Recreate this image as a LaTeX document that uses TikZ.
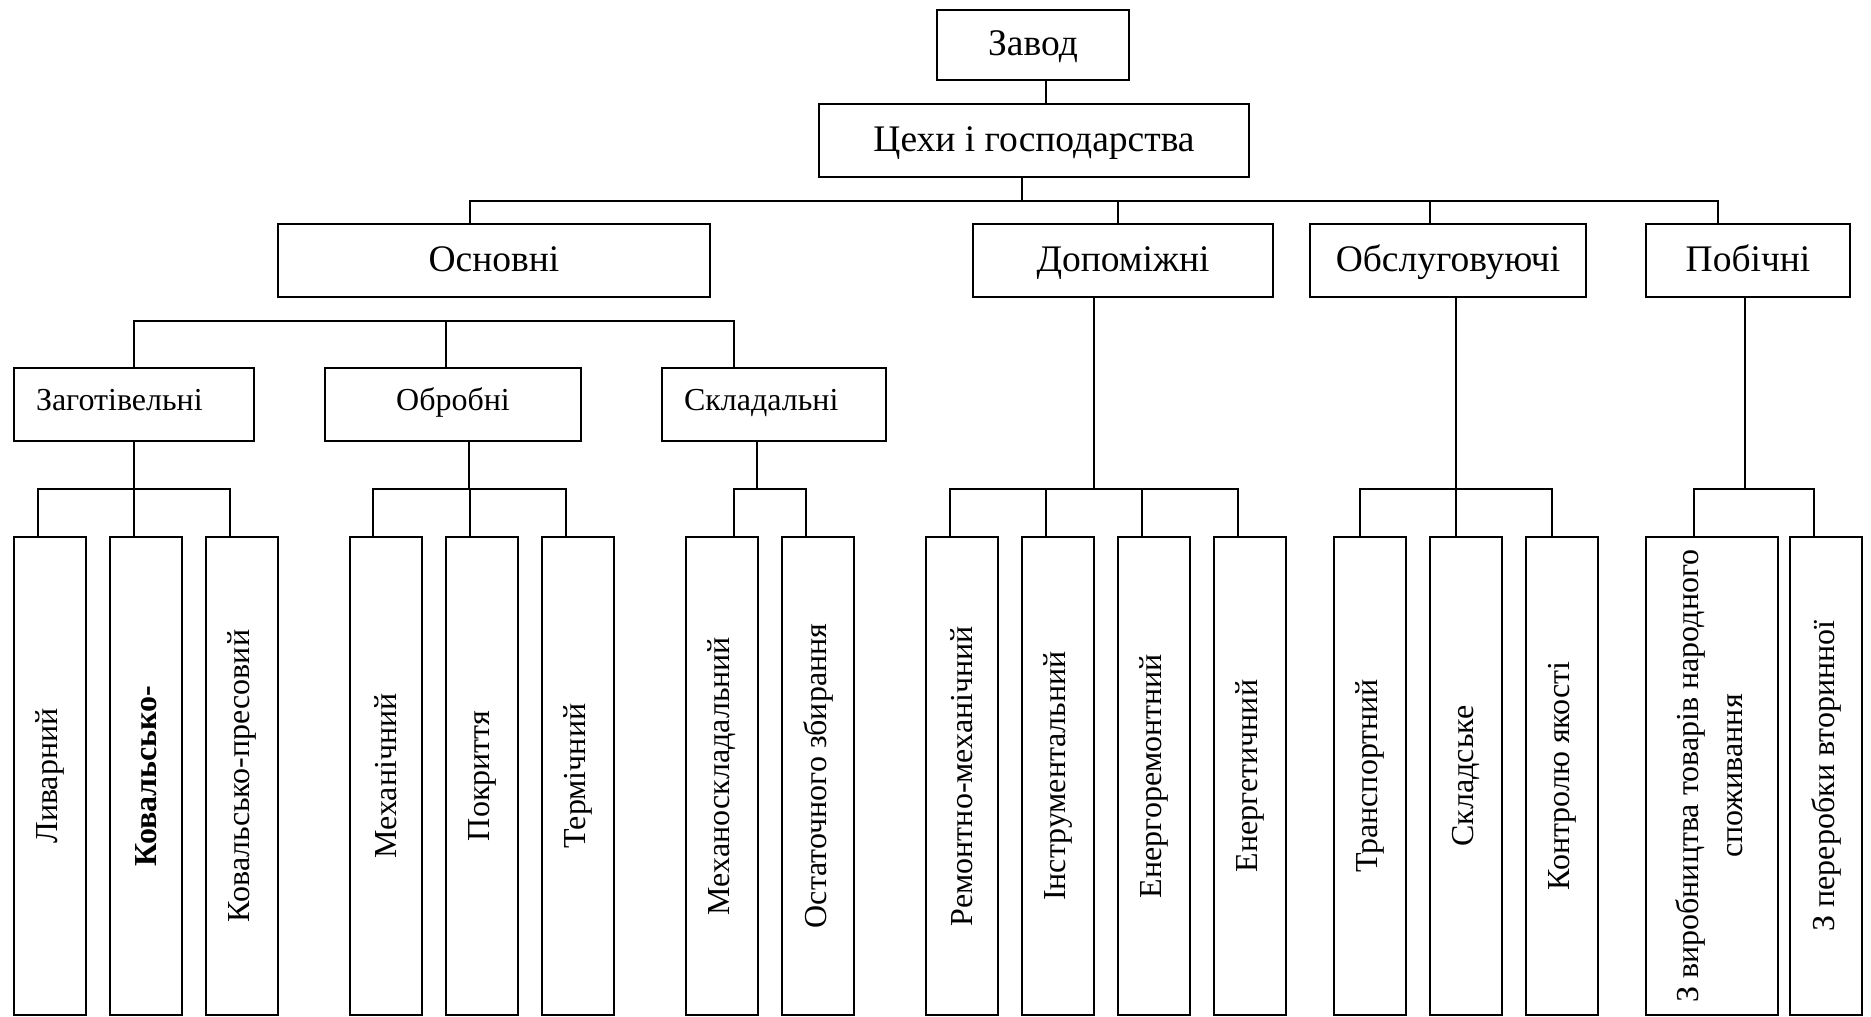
\documentclass[tikz,border=0pt]{standalone}
\usepackage{fontspec}
\setmainfont{Liberation Serif}
\usepackage{graphicx}

\begin{document}
\begin{tikzpicture}[
    x=1pt, y=-1pt,
    box/.style={draw, line width=2pt, inner sep=0pt, minimum height=73pt, font=\fontsize{32}{44}\selectfont},
    head/.style={box, text height=26pt, text depth=5pt, font=\fontsize{37.5}{44}\selectfont},
    stage/.style={box, text height=22pt, text depth=11pt},
    leaf/.style={box, minimum width=72pt, minimum height=478pt},
    link/.style={draw, line width=2pt}
]
\useasboundingbox (0,0) rectangle (1871,1017);

% Plant and shops
\node[head, minimum width=192pt, minimum height=70pt] (plant) at (1033,45) {Завод};
\node[head, minimum width=430pt] (shops) at (1034,140.5) {Цехи і господарства};

% Shop groups
\node[head, minimum width=432pt] (main) at (494,260.5) {Основні};
\node[head, minimum width=300pt] (aux) at (1123,260.5) {Допоміжні};
\node[head, minimum width=276pt] (serv) at (1448,260.5) {Обслуговуючі};
\node[head, minimum width=204pt] (side) at (1748,260.5) {Побічні};

% Main shop stages
\node[stage, minimum width=240pt, text width=196pt, inner xsep=22pt, align=left] (blank) at (134,404.5) {Заготівельні};
\node[stage, minimum width=256pt] (proc) at (453,404.5) {Обробні};
\node[stage, minimum width=224pt, text width=180pt, inner xsep=22pt, align=left] (assy) at (774,404.5) {Складальні};

% Shops (vertical text)
\node[leaf] (cast) at (50,776) {\rotatebox{90}{Ливарний}};
\node[leaf] (forge) at (146,776) {\rotatebox{90}{\bfseries Ковальсько-}};
\node[leaf] (press) at (242,776) {\rotatebox{90}{Ковальсько-пресовий}};
\node[leaf] (mech) at (386,776) {\rotatebox{90}{Механічний}};
\node[leaf] (coat) at (482,776) {\rotatebox{90}{Покриття}};
\node[leaf] (heat) at (578,776) {\rotatebox{90}{Термічний}};
\node[leaf] (massy) at (722,776) {\rotatebox{90}{Механоскладальний}};
\node[leaf] (final) at (818,776) {\rotatebox{90}{Остаточного збирання}};
\node[leaf] (repair) at (962,776) {\rotatebox{90}{Ремонтно-механічний}};
\node[leaf] (tool) at (1058,776) {\rotatebox{90}{Інструментальний}};
\node[leaf] (enrep) at (1154,776) {\rotatebox{90}{Енергоремонтний}};
\node[leaf] (energy) at (1250,776) {\rotatebox{90}{Енергетичний}};
\node[leaf] (trans) at (1370,776) {\rotatebox{90}{Транспортний}};
\node[leaf] (store) at (1466,776) {\rotatebox{90}{Складське}};
\node[leaf] (qual) at (1562,776) {\rotatebox{90}{Контролю якості}};
\node[leaf, minimum width=132pt] (goods) at (1712,776) {\rotatebox{90}{\begin{tabular}{@{}c@{}}З виробництва товарів народного\\споживання\end{tabular}}};
\node[leaf] (recyc) at (1826,776) {\rotatebox{90}{З переробки вторинної}};

% Plant to shops
\draw[link] ([xshift=13pt]plant.south) -- ([xshift=13pt]plant.south |- shops.north);

% Top bus
\coordinate (top) at (1022,201);
\draw[link] (shops.south -| top) -- (top);
\draw[link] ([xshift=-24pt]main.north) |- (top);
\draw[link] ([xshift=-5pt]aux.north) |- (top);
\draw[link] ([xshift=-18pt]serv.north) |- (top);
\draw[link] ([xshift=-30pt]side.north) |- (top);

% Main shops bus
\coordinate (mainbus) at (446,321);
\draw[link] (blank.north) |- (mainbus);
\draw[link] ([xshift=-7pt]proc.north) |- (mainbus);
\draw[link] ([xshift=-40pt]assy.north) |- (mainbus);

% Buses down to the shops
\coordinate (jblank) at (134,489);
\draw[link] (blank.south) -- (jblank);
\draw[link] ([xshift=-12pt]cast.north) |- (jblank);
\draw[link] ([xshift=-12pt]forge.north) |- (jblank);
\draw[link] ([xshift=-12pt]press.north) |- (jblank);

\coordinate (jproc) at (469,489);
\draw[link] (proc.south -| jproc) -- (jproc);
\draw[link] ([xshift=-13pt]mech.north) |- (jproc);
\draw[link] ([xshift=-12pt]coat.north) |- (jproc);
\draw[link] ([xshift=-12pt]heat.north) |- (jproc);

\coordinate (jassy) at (757,489);
\draw[link] (assy.south -| jassy) -- (jassy);
\draw[link] ([xshift=12pt]massy.north) |- (jassy);
\draw[link] ([xshift=-12pt]final.north) |- (jassy);

\coordinate (jaux) at (1094,489);
\draw[link] (aux.south -| jaux) -- (jaux);
\draw[link] ([xshift=-12pt]repair.north) |- (jaux);
\draw[link] ([xshift=-12pt]tool.north) |- (jaux);
\draw[link] ([xshift=-12pt]enrep.north) |- (jaux);
\draw[link] ([xshift=-12pt]energy.north) |- (jaux);

\coordinate (jserv) at (1456,489);
\draw[link] (serv.south -| jserv) -- (jserv);
\draw[link] ([xshift=-10pt]trans.north) |- (jserv);
\draw[link] ([xshift=-10pt]store.north) |- (jserv);
\draw[link] ([xshift=-10pt]qual.north) |- (jserv);

\coordinate (jside) at (1745,489);
\draw[link] (side.south -| jside) -- (jside);
\draw[link] ([xshift=-18pt]goods.north) |- (jside);
\draw[link] ([xshift=-12pt]recyc.north) |- (jside);

\end{tikzpicture}
\end{document}
